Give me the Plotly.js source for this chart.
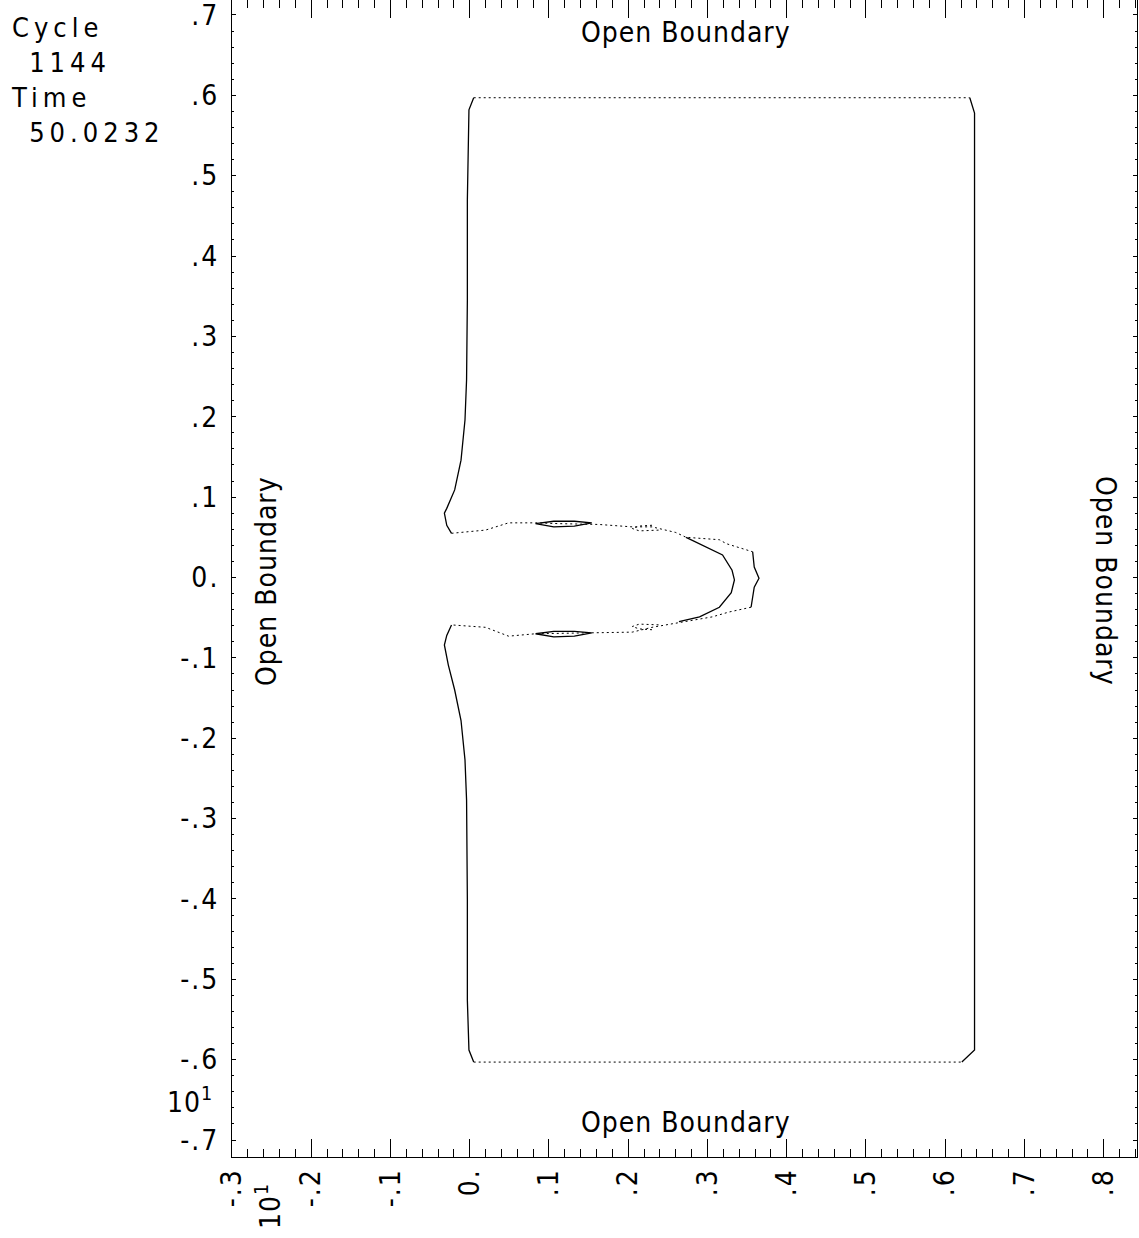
<!DOCTYPE html>
<html>
<head>
<meta charset="utf-8">
<script src="https://cdn.plot.ly/plotly-3.0.1.min.js"></script>
<style>
  html, body { margin: 0; padding: 0; background: #fff; }
  #chart { width: 1139px; height: 1238px; }
  #chart .xtick text, #chart .ytick text { letter-spacing: 2px; }
  #chart g.annotation text { letter-spacing: 1px; }
  #chart g.annotation[data-index="0"] text { letter-spacing: 5px; }
</style>
</head>
<body>
<div id="chart"></div>
<script>
// ---- tick labels (axis values are shown in units of 10^1) ----
const xTickVals = [-0.3, -0.2, -0.1, 0.0, 0.1, 0.2, 0.3, 0.4, 0.5, 0.6, 0.7, 0.8];
const xTickText = ['-.3', '-.2', '-.1', '0.', '.1', '.2', '.3', '.4', '.5', '.6', '.7', '.8'];
const yTickVals = [0.7, 0.6, 0.5, 0.4, 0.3, 0.2, 0.1, 0.0, -0.1, -0.2, -0.3, -0.4, -0.5, -0.6, -0.7];
const yTickText = ['.7', '.6', '.5', '.4', '.3', '.2', '.1', '0.', '-.1', '-.2', '-.3', '-.4', '-.5', '-.6', '-.7'];

// ---- header text ----
const cycleLabel = 'Cycle';
const cycleValue = '1144';
const timeLabel = 'Time';
const timeValue = '50.0232';
const boundaryLabel = 'Open Boundary';
const scaleLabel = '10<sup>1</sup>';

// ---- outer contour, split into its solid and faint (dotted) runs ----
const topEdgeX = [0.005, 0.631];
const topEdgeY = [0.597, 0.597];
const leftUpperX = [0.005, -0.001, -0.003, -0.003, -0.004, -0.006, -0.011, -0.019, -0.029, -0.032, -0.029, -0.023];
const leftUpperY = [0.597, 0.582, 0.470, 0.345, 0.246, 0.196, 0.146, 0.109, 0.086, 0.080, 0.065, 0.055];
const fingerUpperX = [-0.023, 0.020, 0.049, 0.083, 0.113, 0.163, 0.205, 0.230, 0.260, 0.273, 0.315, 0.324, 0.357];
const fingerUpperY = [0.055, 0.059, 0.068, 0.068, 0.067, 0.066, 0.063, 0.063, 0.056, 0.050, 0.047, 0.042, 0.032];
const fingerTipX = [0.357, 0.359, 0.365, 0.359, 0.355];
const fingerTipY = [0.032, 0.013, -0.001, -0.012, -0.037];
const fingerLowerX = [0.355, 0.327, 0.306, 0.273, 0.230, 0.205, 0.154, 0.083, 0.049, 0.020, -0.023];
const fingerLowerY = [-0.037, -0.043, -0.049, -0.055, -0.062, -0.068, -0.069, -0.070, -0.073, -0.062, -0.059];
const leftLowerX = [-0.023, -0.029, -0.032, -0.027, -0.019, -0.011, -0.006, -0.004, -0.003, -0.003, -0.001, 0.005];
const leftLowerY = [-0.059, -0.072, -0.084, -0.109, -0.140, -0.178, -0.227, -0.277, -0.401, -0.526, -0.588, -0.603];
const bottomEdgeX = [0.005, 0.621];
const bottomEdgeY = [-0.603, -0.603];
const rightEdgeX = [0.621, 0.637, 0.637, 0.637, 0.637, 0.631];
const rightEdgeY = [-0.603, -0.588, -0.300, 0.300, 0.578, 0.597];

// ---- inner finger contour ----
const innerX = [0.273, 0.298, 0.319, 0.331, 0.334, 0.330, 0.315, 0.290, 0.264];
const innerY = [0.050, 0.038, 0.028, 0.009, -0.003, -0.019, -0.037, -0.049, -0.055];

// ---- small closed contours along the finger edges ----
const upperLoopX = [0.083, 0.106, 0.132, 0.154, 0.132, 0.106, 0.083];
const upperLoopY = [0.067, 0.070, 0.070, 0.068, 0.064, 0.063, 0.067];
const lowerLoopX = [0.083, 0.106, 0.132, 0.154, 0.132, 0.106, 0.083];
const lowerLoopY = [-0.070, -0.067, -0.067, -0.069, -0.073, -0.074, -0.070];
const upperHookX = [0.230, 0.214, 0.205, 0.214, 0.240];
const upperHookY = [0.065, 0.064, 0.061, 0.058, 0.059];
const lowerHookX = [0.230, 0.214, 0.205, 0.214, 0.240];
const lowerHookY = [-0.065, -0.064, -0.061, -0.058, -0.059];

const solid = { color: '#000', width: 1.3 };
const faint = { color: '#000', width: 1, dash: '2px,3px' };
const mk = (x, y, line) => ({ x: x, y: y, type: 'scatter', mode: 'lines', line: line, hoverinfo: 'skip', showlegend: false });

const traces = [
  mk(topEdgeX, topEdgeY, faint),
  mk(leftUpperX, leftUpperY, solid),
  mk(fingerUpperX, fingerUpperY, faint),
  mk(fingerTipX, fingerTipY, solid),
  mk(fingerLowerX, fingerLowerY, faint),
  mk(leftLowerX, leftLowerY, solid),
  mk(bottomEdgeX, bottomEdgeY, faint),
  mk(rightEdgeX, rightEdgeY, solid),
  mk(innerX, innerY, solid),
  mk(upperLoopX, upperLoopY, solid),
  mk(lowerLoopX, lowerLoopY, solid),
  mk(upperHookX, upperHookY, faint),
  mk(lowerHookX, lowerHookY, faint)
];

const FONT = '"DejaVu Sans Condensed", "Liberation Sans Narrow", sans-serif';
const headFont = { family: FONT, size: 27, color: '#000' };
const boundFont = { family: FONT, size: 28, color: '#000' };
const tickFont = { family: FONT, size: 28, color: '#000' };

// paper coordinates from pixel positions (plot area 232..1137 x 0..1157)
const px = v => (v - 232) / 905;
const py = v => 1 - v / 1157;

const ann = (text, x, y, xanchor, angle, font) => ({
  text: text, xref: 'paper', yref: 'paper', x: x, y: y, align: 'left',
  xanchor: xanchor, yanchor: 'middle', showarrow: false, textangle: angle || 0, font: font
});

const IND = '\u2002';
const headerText = [cycleLabel, IND + cycleValue, timeLabel, IND + timeValue].join('<br>');

const layout = {
  width: 1139, height: 1238,
  margin: { l: 232, r: 2, t: 0, b: 81, pad: 0 },
  paper_bgcolor: '#fff', plot_bgcolor: '#fff',
  showlegend: false,
  xaxis: {
    range: [-0.3, 0.842], showgrid: false, zeroline: false,
    showline: true, linecolor: '#000', linewidth: 1, mirror: 'allticks',
    ticks: 'inside', ticklen: 18, tickwidth: 1, tickcolor: '#000',
    tickmode: 'array', tickvals: xTickVals, ticktext: xTickText,
    tickangle: -90, tickfont: tickFont, ticklabelstandoff: -1, ticklabeloverflow: 'allow',
    minor: { tickmode: 'linear', tick0: 0, dtick: 0.02, ticks: 'inside', ticklen: 8, tickwidth: 1, tickcolor: '#000', showgrid: false }
  },
  yaxis: {
    range: [-0.7211, 0.7186], showgrid: false, zeroline: false,
    showline: true, linecolor: '#000', linewidth: 1, mirror: 'allticks',
    ticks: 'inside', ticklen: 4, tickwidth: 1, tickcolor: '#000',
    tickmode: 'array', tickvals: yTickVals, ticktext: yTickText,
    tickfont: tickFont, ticklabelstandoff: 6, ticklabeloverflow: 'allow',
    minor: { tickmode: 'linear', tick0: 0, dtick: 0.02, ticks: 'inside', ticklen: 2, tickwidth: 1, tickcolor: '#000', showgrid: false }
  },
  annotations: [
    ann(headerText, px(9), py(80), 'left', 0, headFont),
    ann(boundaryLabel, px(679), py(32), 'center', 0, boundFont),
    ann(boundaryLabel, px(679), py(1122), 'center', 0, boundFont),
    ann(boundaryLabel, px(266), py(588), 'center', -90, boundFont),
    ann(boundaryLabel, px(1106), py(574), 'center', 90, boundFont),
    ann(scaleLabel, px(188), py(1100), 'center', 0, tickFont),
    ann(scaleLabel, px(268), py(1208), 'center', -90, tickFont)
  ]
};

Plotly.newPlot('chart', traces, layout, { staticPlot: true, displayModeBar: false });
</script>
</body>
</html>
